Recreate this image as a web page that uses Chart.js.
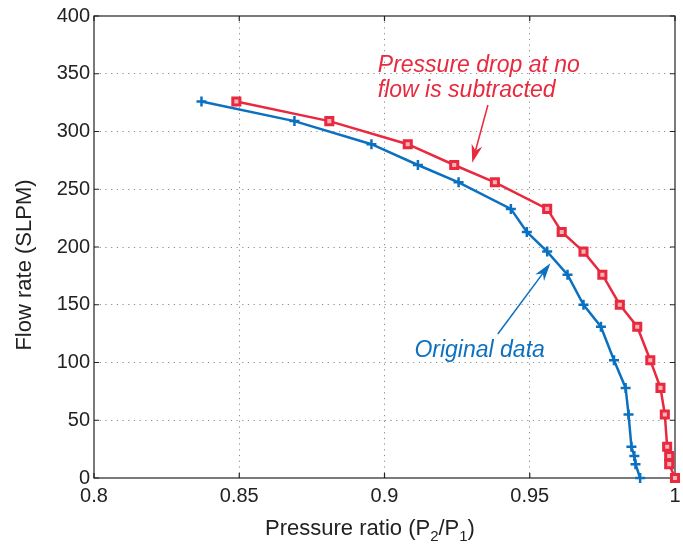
<!DOCTYPE html>
<html>
<head>
<meta charset="utf-8">
<script src="https://cdn.jsdelivr.net/npm/chart.js@4"></script>
<style>
  html, body { margin: 0; padding: 0; background: #fff; }
  #wrap { width: 683px; height: 546px; }
</style>
</head>
<body>
<div id="wrap"><canvas id="flowChart" width="683" height="546"></canvas></div>
<script>
// flow rate (SLPM) shared by both series
const flowRate = [326, 309, 289, 271, 256, 233, 213, 196, 176, 150, 131, 102, 78, 55, 27, 19, 12, 0];
// pressure ratio P2/P1, original measurements
const ratioOriginal = [0.837, 0.869, 0.8955, 0.9115, 0.9255, 0.9435, 0.949, 0.956, 0.963, 0.9685, 0.9745, 0.979, 0.983, 0.984, 0.985, 0.986, 0.9864, 0.988];
// pressure ratio after subtracting no-flow pressure drop
const ratioSubtracted = [0.849, 0.881, 0.908, 0.924, 0.938, 0.956, 0.961, 0.9685, 0.975, 0.981, 0.987, 0.9915, 0.995, 0.9965, 0.9973, 0.998, 0.998, 1.0];

const xTicks = [0.8, 0.85, 0.9, 0.95, 1];
const yTicks = [0, 50, 100, 150, 200, 250, 300, 350, 400];

const BLUE = "#0b70bf";
const RED = "#e8293e";
const FONT = "'Liberation Sans', Arial, Helvetica, sans-serif";

// annotations (data coordinates)
const redNote = { lines: ["Pressure drop at no", "flow is subtracted"], x: 0.8977, y: [351.3, 330.1] };
const redArrow = { from: [0.9356, 322.9], to: [0.9302, 273] };
const blueNote = { text: "Original data", x: 0.9103, y: 104.5 };
const blueArrow = { from: [0.939, 124.7], to: [0.9571, 185.9] };

function toPoints(xs, ys) {
  return xs.map((x, i) => ({ x: x, y: ys[i] }));
}

function drawArrow(ctx, x1, y1, x2, y2, color) {
  const ang = Math.atan2(y2 - y1, x2 - x1);
  const len = 18, half = 5.5;
  ctx.save();
  ctx.strokeStyle = color;
  ctx.fillStyle = color;
  ctx.lineWidth = 1.5;
  ctx.beginPath();
  ctx.moveTo(x1, y1);
  ctx.lineTo(x2 - Math.cos(ang) * len * 0.7, y2 - Math.sin(ang) * len * 0.7);
  ctx.stroke();
  const bx = x2 - Math.cos(ang) * len, by = y2 - Math.sin(ang) * len;
  const nx = x2 - Math.cos(ang) * len * 0.7, ny = y2 - Math.sin(ang) * len * 0.7;
  ctx.beginPath();
  ctx.moveTo(x2, y2);
  ctx.lineTo(bx - Math.sin(ang) * half, by + Math.cos(ang) * half);
  ctx.lineTo(nx, ny);
  ctx.lineTo(bx + Math.sin(ang) * half, by - Math.cos(ang) * half);
  ctx.closePath();
  ctx.fill();
  ctx.restore();
}

// box + inward tick marks, MATLAB style
const framePlugin = {
  id: "frame",
  beforeDatasetsDraw(chart) {
    const { ctx, chartArea: a, scales } = chart;
    ctx.save();
    ctx.strokeStyle = "#222";
    ctx.lineWidth = 1.2;
    ctx.strokeRect(a.left, a.top, a.right - a.left, a.bottom - a.top);
    ctx.beginPath();
    xTicks.forEach((v) => {
      const px = scales.x.getPixelForValue(v);
      ctx.moveTo(px, a.bottom); ctx.lineTo(px, a.bottom - 5);
      ctx.moveTo(px, a.top); ctx.lineTo(px, a.top + 5);
    });
    yTicks.forEach((v) => {
      const py = scales.y.getPixelForValue(v);
      ctx.moveTo(a.left, py); ctx.lineTo(a.left + 5, py);
      ctx.moveTo(a.right, py); ctx.lineTo(a.right - 5, py);
    });
    ctx.stroke();
    ctx.restore();
  },
  afterDraw(chart) {
    const { ctx, scales } = chart;
    const sx = (v) => scales.x.getPixelForValue(v);
    const sy = (v) => scales.y.getPixelForValue(v);
    ctx.save();
    ctx.textBaseline = "alphabetic";

    // annotations
    ctx.font = "italic 23px " + FONT;
    ctx.fillStyle = RED;
    ctx.textAlign = "left";
    redNote.lines.forEach((t, i) => ctx.fillText(t, sx(redNote.x), sy(redNote.y[i])));
    drawArrow(ctx, sx(redArrow.from[0]), sy(redArrow.from[1]), sx(redArrow.to[0]), sy(redArrow.to[1]), RED);

    ctx.fillStyle = BLUE;
    ctx.fillText(blueNote.text, sx(blueNote.x), sy(blueNote.y));
    drawArrow(ctx, sx(blueArrow.from[0]), sy(blueArrow.from[1]), sx(blueArrow.to[0]), sy(blueArrow.to[1]), BLUE);

    // x axis title with subscripts
    ctx.fillStyle = "#222";
    const big = "22px " + FONT, small = "15px " + FONT;
    const parts = [["Pressure ratio (P", big, 0], ["2", small, 6], ["/P", big, 0], ["1", small, 6], [")", big, 0]];
    let total = 0;
    parts.forEach((p) => { ctx.font = p[1]; total += ctx.measureText(p[0]).width; });
    let x = 370 - total / 2;
    parts.forEach((p) => {
      ctx.font = p[1];
      ctx.fillText(p[0], x, 535 + p[2]);
      x += ctx.measureText(p[0]).width;
    });

    // y axis title
    ctx.font = "22px " + FONT;
    ctx.textAlign = "center";
    ctx.translate(31, 265);
    ctx.rotate(-Math.PI / 2);
    ctx.fillText("Flow rate (SLPM)", 0, 0);
    ctx.restore();
  },
};

const ctx = document.getElementById("flowChart");
new Chart(ctx, {
  type: "line",
  data: {
    datasets: [
      {
        label: "Original data",
        data: toPoints(ratioOriginal, flowRate),
        borderColor: BLUE,
        backgroundColor: BLUE,
        borderWidth: 2.5,
        tension: 0,
        clip: 10,
        pointStyle: "cross",
        pointRadius: 5,
        pointBorderWidth: 2.5,
        pointBorderColor: BLUE,
      },
      {
        label: "Pressure drop at no flow is subtracted",
        data: toPoints(ratioSubtracted, flowRate),
        borderColor: RED,
        backgroundColor: "#f3b3b9",
        borderWidth: 2.5,
        tension: 0,
        clip: 10,
        pointStyle: "rect",
        pointRadius: 5,
        pointBorderWidth: 3,
        pointBorderColor: RED,
      },
    ],
  },
  options: {
    responsive: false,
    animation: false,
    layout: { padding: { left: 0, right: 5, top: 16, bottom: 0 } },
    plugins: {
      legend: { display: false },
      tooltip: { enabled: false },
    },
    scales: {
      x: {
        type: "linear",
        min: 0.8,
        max: 1,
        afterFit: (scale) => {
          scale.height = 68;
          scale.paddingLeft = 0;
          scale.paddingRight = 0;
        },
        afterBuildTicks: (scale) => { scale.ticks = xTicks.map((v) => ({ value: v })); },
        ticks: {
          padding: 6,
          color: "#222",
          font: { family: FONT, size: 20 },
          callback: (v) => String(Number(v.toFixed(2))),
        },
        grid: {
          drawTicks: false,
          color: (c) => (c.tick && (c.tick.value <= 0.8 || c.tick.value >= 1) ? "rgba(0,0,0,0)" : "#8a8a8a"),
          lineWidth: 1,
        },
        border: { display: false, dash: [1.2, 4.5] },
      },
      y: {
        type: "linear",
        min: 0,
        max: 400,
        afterFit: (scale) => {
          scale.width = 94;
          scale.paddingTop = 0;
          scale.paddingBottom = 0;
        },
        afterBuildTicks: (scale) => { scale.ticks = yTicks.map((v) => ({ value: v })); },
        ticks: {
          padding: 4,
          color: "#222",
          font: { family: FONT, size: 20 },
        },
        grid: {
          drawTicks: false,
          color: (c) => (c.tick && (c.tick.value <= 0 || c.tick.value >= 400) ? "rgba(0,0,0,0)" : "#8a8a8a"),
          lineWidth: 1,
        },
        border: { display: false, dash: [1.2, 4.5] },
      },
    },
  },
  plugins: [framePlugin],
});
</script>
</body>
</html>
